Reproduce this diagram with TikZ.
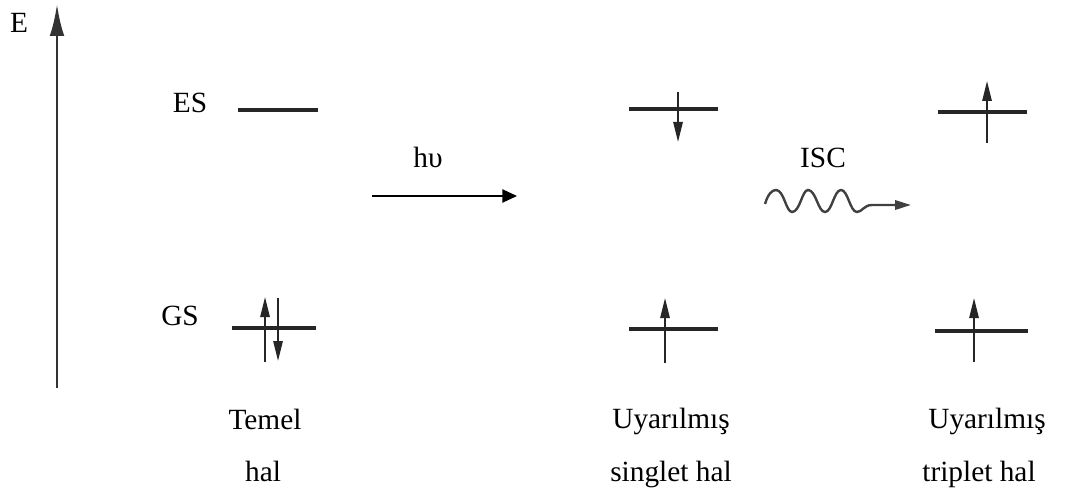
\documentclass[tikz,border=0pt]{standalone}
\usepackage{fontspec}
\setmainfont{Liberation Serif}
\usetikzlibrary{arrows.meta}
\begin{document}
\begin{tikzpicture}[x=0.75pt,y=-0.75pt,
  lbl/.style={font=\fontsize{22}{26}\selectfont, inner sep=0pt, anchor=base},
  level/.style={line width=2.4pt, black!85},
  spin/.style={line width=1.4pt, black!85, -{Triangle[length=15pt,width=7pt]}},
  axisarrow/.style={line width=2.2pt, black!80, -{Latex[length=24pt,width=11pt]}},
  photon/.style={line width=1pt, -{Triangle[length=11pt,width=10pt]}},
  wavy/.style={line width=1.8pt, black!75, -{Triangle[length=12pt,width=7pt]}}]
\useasboundingbox (0,0) rectangle (1088,499);

% energy axis
\coordinate (axb) at (57,388);
\coordinate (axt) at (57,4);
\draw[axisarrow] (axb) -- (axt);
\node[lbl] (E) at (19,33) {E};
\node[lbl] (ES) at (190,113) {ES};
\node[lbl] (GS) at (180,325) {GS};

% ground state column (Temel hal)
\coordinate (t1a) at (238,110); \coordinate (t1b) at (318,110);
\draw[level] (t1a) -- (t1b);
\coordinate (t2a) at (232,328); \coordinate (t2b) at (316,328);
\draw[level] (t2a) -- (t2b);
\coordinate (tu0) at (265,362); \coordinate (tu1) at (265,297);
\draw[spin] (tu0) -- (tu1);
\coordinate (td0) at (278,298); \coordinate (td1) at (278,361);
\draw[spin] (td0) -- (td1);

% singlet column
\coordinate (s1a) at (629,109); \coordinate (s1b) at (718,109);
\draw[level] (s1a) -- (s1b);
\coordinate (sd0) at (678,92); \coordinate (sd1) at (678,142);
\draw[spin] (sd0) -- (sd1);
\coordinate (s2a) at (629,329); \coordinate (s2b) at (718,329);
\draw[level] (s2a) -- (s2b);
\coordinate (su0) at (665,363); \coordinate (su1) at (665,298);
\draw[spin] (su0) -- (su1);

% triplet column
\coordinate (p1a) at (938,112); \coordinate (p1b) at (1027,112);
\draw[level] (p1a) -- (p1b);
\coordinate (pu0) at (987,143); \coordinate (pu1) at (987,81);
\draw[spin] (pu0) -- (pu1);
\coordinate (p2a) at (935,331); \coordinate (p2b) at (1028,331);
\draw[level] (p2a) -- (p2b);
\coordinate (pv0) at (974,362); \coordinate (pv1) at (974,298);
\draw[spin] (pv0) -- (pv1);

% h nu arrow
\coordinate (hs) at (372,196); \coordinate (he) at (517,196);
\draw[photon] (hs) -- (he);
\node[lbl] (hv) at (428,167) {hυ};

% ISC wavy arrow
\coordinate (ws) at (765,204); \coordinate (we) at (911,205);
\draw[wavy] (ws) .. controls (768,194) and (772,190) .. (776,190)
  .. controls (784,190) and (786,212) .. (792,212)
  .. controls (800,212) and (802,190) .. (808,190)
  .. controls (816,190) and (818,212) .. (825,212)
  .. controls (832,212) and (834,190) .. (841,190)
  .. controls (848,190) and (850,212) .. (857,212)
  .. controls (862,212) and (864,205) .. (872,205)
  -- (we);
\node[lbl] (isc) at (823,167) {ISC};

% bottom captions
\node[lbl] (temel) at (265,429) {Temel};
\node[lbl] (hal1) at (263,481) {hal};
\node[lbl] (uy1) at (671,428) {Uyarılmış};
\node[lbl] (sh) at (671,481) {singlet hal};
\node[lbl] (uy2) at (987,428) {Uyarılmış};
\node[lbl] (th) at (979,481) {triplet hal};
\end{tikzpicture}
\end{document}
